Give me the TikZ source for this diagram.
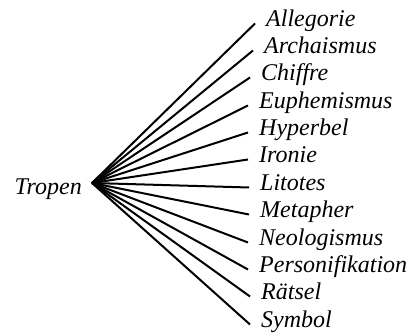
\documentclass[tikz,border=0pt]{standalone}
\usepackage{fontspec}
\setmainfont{Liberation Serif}
\usetikzlibrary{calc}
\begin{document}
\begin{tikzpicture}[x=1pt,y=1pt,
  lab/.style={anchor=base west,inner sep=0pt,font=\fontsize{24}{28}\selectfont\itshape},
  branch/.style={line width=2pt}]
\useasboundingbox (0,0) rectangle (409,336);
\coordinate (root) at (92,153);
\node[anchor=base east,inner sep=0pt,font=\fontsize{24}{28}\selectfont\itshape] (tropen) at (82,141) {Tropen};
\foreach \name/\tx/\by/\txt in {
  a/266/27/Allegorie,
  b/264/54/Archaismus,
  c/261/81/Chiffre,
  d/259/109/Euphemismus,
  e/259/136/Hyperbel,
  f/259/163/Ironie,
  g/260/191/Litotes,
  h/260/218/Metapher,
  i/259/246/Neologismus,
  j/259/273/Personifikation,
  k/261/300/R\"atsel,
  l/261/328/Symbol}{
  \node[lab] (\name) at (\tx,336-\by) {\txt};
  \coordinate (e\name) at ($(\name.base west)+(-11,3.5)$);
  \draw[branch] (root) -- (e\name);
}
\end{tikzpicture}
\end{document}
